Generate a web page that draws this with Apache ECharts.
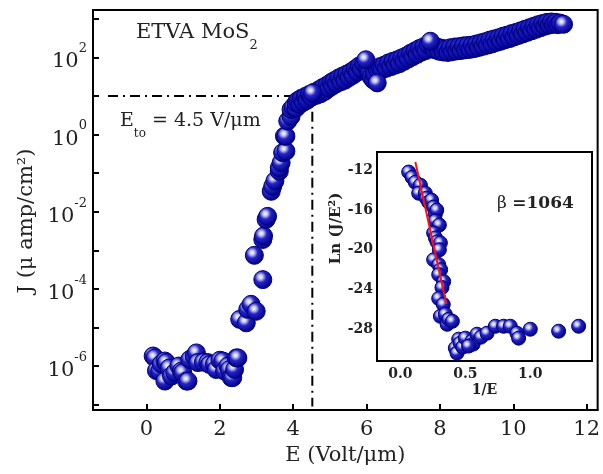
<!DOCTYPE html>
<html>
<head>
<meta charset="utf-8">
<script src="https://cdn.jsdelivr.net/npm/echarts@6/dist/echarts.min.js"></script>
<style>
  html, body { margin: 0; padding: 0; background: #fff; }
  #chart { width: 603px; height: 474px; }
</style>
</head>
<body>
<div id="chart"></div>
<script>
// main plot: E (V/um) and log10 of J (uA/cm^2)
const lowE = [0.18, 0.23, 0.27, 0.36, 0.40, 0.50, 0.54, 0.50, 0.62, 0.68, 0.77, 0.88, 0.95, 0.99, 1.09, 1.13, 1.18, 1.30, 1.36, 1.40, 1.55, 1.67, 1.72, 1.85, 1.90, 2.00, 2.08, 2.13, 2.22, 2.26, 2.31, 2.35, 2.40, 2.45, 2.49];
const lowLogJ = [-5.74, -5.79, -6.12, -6.13, -5.95, -5.87, -5.91, -6.39, -6.05, -6.26, -6.17, -6.00, -6.13, -6.17, -6.39, -6.39, -5.83, -5.75, -5.66, -5.91, -5.90, -5.91, -5.96, -5.95, -6.09, -5.85, -5.87, -6.13, -6.00, -6.09, -6.30, -6.30, -6.09, -5.79, -5.79];

const riseE = [2.54, 2.72, 2.76, 2.85, 2.99, 3.17, 2.94, 3.17, 3.19, 3.26, 3.30, 3.40, 3.44, 3.50, 3.62, 3.62, 3.67, 3.71, 3.80, 3.76, 3.80, 3.85, 3.94, 3.94, 4.00, 4.08, 4.08];
const riseLogJ = [-4.79, -4.88, -4.53, -4.40, -4.58, -3.76, -3.13, -2.72, -2.63, -2.20, -2.12, -1.47, -1.34, -1.20, -0.95, -0.86, -0.73, -0.47, -0.43, -0.04, -0.04, 0.35, 0.47, 0.65, 0.72, 0.69, 0.82];

// dense part of the curve
const bandE = [4.12, 4.18, 4.22, 4.28, 4.33, 4.38, 4.44, 4.50, 4.58, 4.64, 4.70, 4.75, 4.80, 4.86, 4.92, 4.97, 5.03, 5.07, 5.12, 5.18, 5.24, 5.30, 5.35, 5.41, 5.46, 5.52, 5.58, 5.63, 5.69, 5.75, 5.80, 5.86, 5.92, 6.03, 6.07, 6.12, 6.18, 6.22, 6.30, 6.36, 6.42, 6.48, 6.54, 6.60, 6.66, 6.72, 6.78, 6.84, 6.90, 6.96, 7.02, 7.08, 7.14, 7.20, 7.26, 7.32, 7.38, 7.44, 7.50, 7.56, 7.62, 7.68, 7.80, 7.86, 7.92, 7.98, 8.04, 8.10, 8.16, 8.22, 8.28, 8.34, 8.40, 8.46, 8.52, 8.58, 8.64, 8.70, 8.76, 8.82, 8.88, 8.94, 9.00, 9.06, 9.12, 9.18, 9.24, 9.30, 9.36, 9.42, 9.48, 9.54, 9.60, 9.66, 9.72, 9.78, 9.84, 9.90, 9.96, 10.02, 10.08, 10.14, 10.20, 10.26, 10.32, 10.38, 10.44, 10.50, 10.56, 10.62, 10.68, 10.74, 10.80, 10.86, 10.92, 10.98, 11.04, 11.10, 11.16, 11.22, 11.28];
const bandLogJ = [0.88, 0.78, 0.94, 0.84, 0.99, 0.89, 1.04, 0.97, 1.10, 1.02, 1.16, 1.06, 1.22, 1.12, 1.28, 1.20, 1.35, 1.26, 1.40, 1.32, 1.47, 1.37, 1.52, 1.41, 1.57, 1.48, 1.63, 1.54, 1.70, 1.62, 1.78, 1.70, 1.84, 1.72, 1.60, 1.50, 1.42, 1.56, 1.68, 1.76, 1.68, 1.80, 1.72, 1.86, 1.76, 1.90, 1.80, 1.94, 1.84, 1.99, 1.90, 2.04, 1.96, 2.11, 2.02, 2.17, 2.08, 2.23, 2.14, 2.28, 2.18, 2.32, 2.30, 2.20, 2.27, 2.16, 2.24, 2.14, 2.22, 2.13, 2.25, 2.15, 2.27, 2.17, 2.28, 2.18, 2.30, 2.20, 2.31, 2.21, 2.32, 2.23, 2.35, 2.26, 2.38, 2.29, 2.41, 2.32, 2.45, 2.35, 2.48, 2.39, 2.51, 2.42, 2.55, 2.46, 2.58, 2.49, 2.62, 2.53, 2.65, 2.57, 2.69, 2.61, 2.73, 2.65, 2.77, 2.69, 2.81, 2.73, 2.85, 2.77, 2.88, 2.81, 2.91, 2.84, 2.92, 2.86, 2.91, 2.85, 2.89];
// points standing out of the band
const edgeE = [4.53, 5.98, 6.29, 7.74, 11.37];
const edgeLogJ = [1.08, 1.94, 1.34, 2.42, 2.86];

// turn-on guide (E_to = 4.5 V/um at J = 10)
const guideE = [-1.05, 4.52, 4.52];
const guideLogJ = [1.0, 1.0, -7.05];

const xTicks = [0, 2, 4, 6, 8, 10, 12];
const yTicks = [-7, -6, -5, -4, -3, -2, -1, 0, 1, 2, 3];
const yLabels = [-6, -4, -2, 0, 2];

// inset: FN plot
const fnX = [0.064, 0.09, 0.115, 0.154, 0.141, 0.192, 0.20, 0.218, 0.24, 0.256, 0.269, 0.28, 0.269, 0.30, 0.256, 0.27, 0.282, 0.308, 0.30, 0.256, 0.295, 0.31, 0.295, 0.333, 0.32, 0.295, 0.33, 0.308, 0.346, 0.36, 0.372, 0.40, 0.449, 0.423, 0.436, 0.46, 0.48, 0.50, 0.552, 0.56, 0.525, 0.59, 0.62, 0.667, 0.731, 0.795, 0.846, 0.897, 0.91, 1.0, 1.218, 1.372];
const fnY = [-12.17, -12.7, -13.2, -13.5, -14.3, -14.3, -14.8, -15.2, -15.0, -15.7, -16.4, -16.0, -17.1, -17.5, -18.3, -18.8, -19.2, -19.3, -20.0, -21.0, -21.5, -22.0, -22.5, -23.2, -23.8, -24.9, -25.5, -26.7, -26.5, -27.5, -27.0, -27.2, -29.0, -29.9, -30.4, -29.4, -29.8, -28.9, -29.2, -29.5, -29.7, -28.5, -28.8, -28.4, -27.7, -27.7, -27.7, -28.4, -28.9, -28.0, -28.2, -27.7];
const fitX = [0.115, 0.354];
const fitY = [-11.16, -25.46];

const insetXTicks = [0, 0.5, 1.0];
const insetYTicks = [-12, -16, -20, -24, -28];

const zip = (a, b) => a.map((v, i) => [v, b[i]]);

const ball = new echarts.graphic.RadialGradient(0.38, 0.36, 0.62, [
  { offset: 0, color: '#ffffff' },
  { offset: 0.2, color: '#c4c4f2' },
  { offset: 0.48, color: '#2424c4' },
  { offset: 1, color: '#00008c' }
]);
const dimBall = new echarts.graphic.RadialGradient(0.38, 0.36, 0.62, [
  { offset: 0, color: '#3a3ad0' },
  { offset: 0.5, color: '#1414b8' },
  { offset: 1, color: '#00008c' }
]);

const serif = 'DejaVu Serif';

const chart = echarts.init(document.getElementById('chart'));

const option = {
  animation: false,
  backgroundColor: '#fff',
  grid: [
    { left: 93, top: 10, right: 2, bottom: 64, show: true, borderColor: '#000', borderWidth: 2 },
    { left: 377, top: 152, width: 215, height: 209, show: true, borderColor: '#000', borderWidth: 2, backgroundColor: '#fff', z: 5 }
  ],
  xAxis: [
    {
      type: 'value', gridIndex: 0, min: -1.46, max: 12.3,
      name: 'E (Volt/μm)', nameLocation: 'middle', nameGap: 34,
      nameTextStyle: { fontFamily: serif, fontSize: 21, color: '#222' },
      axisLine: { onZero: false, lineStyle: { color: '#000', width: 2 } },
      axisTick: { inside: true, length: 6, customValues: xTicks, lineStyle: { color: '#000', width: 2 } },
      axisLabel: { customValues: xTicks, margin: 9, fontFamily: serif, fontSize: 21, color: '#222' },
      splitLine: { show: false }
    },
    {
      type: 'value', gridIndex: 1, min: -0.18, max: 1.475,
      name: '1/E', nameLocation: 'middle', nameGap: 22,
      nameTextStyle: { fontFamily: serif, fontWeight: 'bold', fontSize: 14, color: '#222' },
      axisLine: { onZero: false, lineStyle: { color: '#000', width: 2 } },
      axisTick: { inside: true, length: 4, customValues: insetXTicks, lineStyle: { color: '#000', width: 2 } },
      axisLabel: { customValues: insetXTicks, margin: 6, fontFamily: serif, fontWeight: 'bold', fontSize: 14, color: '#222',
        formatter: v => v.toFixed(1) },
      splitLine: { show: false }
    }
  ],
  yAxis: [
    {
      type: 'value', gridIndex: 0, min: -7.14, max: 3.23,
      name: 'J (μ amp/cm²)', nameLocation: 'middle', nameGap: 56,
      nameTextStyle: { fontFamily: serif, fontSize: 21, color: '#222', padding: [0, 22, 0, 0] },
      axisLine: { onZero: false, lineStyle: { color: '#000', width: 2 } },
      axisTick: { inside: true, length: 6, customValues: yTicks, lineStyle: { color: '#000', width: 2 } },
      axisLabel: {
        customValues: yLabels, margin: 6, color: '#222',
        formatter: v => '{b|10}{s|' + v + '}',
        rich: {
          b: { fontFamily: serif, fontSize: 21, lineHeight: 30, verticalAlign: 'bottom', color: '#222' },
          s: { fontFamily: serif, fontSize: 13, lineHeight: 30, verticalAlign: 'top', color: '#222' }
        }
      },
      splitLine: { show: false }
    },
    {
      type: 'value', gridIndex: 1, min: -31.2, max: -10.15,
      name: 'Ln (J/E²)', nameLocation: 'middle', nameGap: 32,
      nameTextStyle: { fontFamily: serif, fontWeight: 'bold', fontSize: 15, color: '#222', padding: [0, 0, 0, 56] },
      axisLine: { onZero: false, lineStyle: { color: '#000', width: 2 } },
      axisTick: { inside: true, length: 4, customValues: insetYTicks, lineStyle: { color: '#000', width: 2 } },
      axisLabel: { customValues: insetYTicks, margin: 4, fontFamily: serif, fontWeight: 'bold', fontSize: 14, color: '#222' },
      splitLine: { show: false }
    }
  ],
  series: [
    {
      type: 'line', xAxisIndex: 0, yAxisIndex: 0, data: zip(guideE, guideLogJ),
      symbol: 'none', lineStyle: { color: '#000', width: 2, type: [10, 5, 2, 5] }, z: 1
    },
    {
      type: 'scatter', xAxisIndex: 0, yAxisIndex: 0,
      data: zip(lowE, lowLogJ).concat(zip(riseE, riseLogJ)),
      symbolSize: 18, itemStyle: { color: ball, borderColor: '#00007a', borderWidth: 1, opacity: 1 }
    },
    {
      type: 'scatter', xAxisIndex: 0, yAxisIndex: 0, data: zip(bandE, bandLogJ),
      symbolSize: 18, itemStyle: { color: dimBall, borderColor: '#00007a', borderWidth: 1, opacity: 1 }
    },
    {
      type: 'scatter', xAxisIndex: 0, yAxisIndex: 0, data: zip(edgeE, edgeLogJ), z: 3,
      symbolSize: 18, itemStyle: { color: ball, borderColor: '#00007a', borderWidth: 1, opacity: 1 }
    },
    {
      type: 'scatter', xAxisIndex: 1, yAxisIndex: 1, data: zip(fnX, fnY), z: 6,
      symbolSize: 14, itemStyle: { color: ball, borderColor: '#00007a', borderWidth: 1, opacity: 1 }
    },
    {
      type: 'line', xAxisIndex: 1, yAxisIndex: 1, data: zip(fitX, fitY), z: 7,
      symbol: 'none', lineStyle: { color: '#ff1010', width: 2 }
    }
  ],
  graphic: [
    {
      type: 'text', left: 136, top: 22, z: 10,
      style: {
        text: '{a|ETVA MoS}{s|2}',
        rich: {
          a: { fontFamily: serif, fontSize: 21, lineHeight: 30, verticalAlign: 'top', fill: '#222' },
          s: { fontFamily: serif, fontSize: 13, lineHeight: 30, verticalAlign: 'bottom', fill: '#222' }
        }
      }
    },
    {
      type: 'text', left: 120, top: 112, z: 10,
      style: {
        text: '{a|E}{s|to}{a| = 4.5 V/μm}',
        rich: {
          a: { fontFamily: serif, fontSize: 19, lineHeight: 28, verticalAlign: 'top', fill: '#222' },
          s: { fontFamily: serif, fontSize: 12, lineHeight: 28, verticalAlign: 'bottom', fill: '#222' }
        }
      }
    },
    {
      type: 'text', left: 497, top: 195, z: 10,
      style: {
        text: '{b|β }{a|=1064}',
        rich: {
          b: { fontFamily: serif, fontSize: 17, fill: '#222' },
          a: { fontFamily: serif, fontSize: 17, fontWeight: 'bold', fill: '#222' }
        }
      }
    }
  ]
};

chart.setOption(option);
</script>
</body>
</html>
